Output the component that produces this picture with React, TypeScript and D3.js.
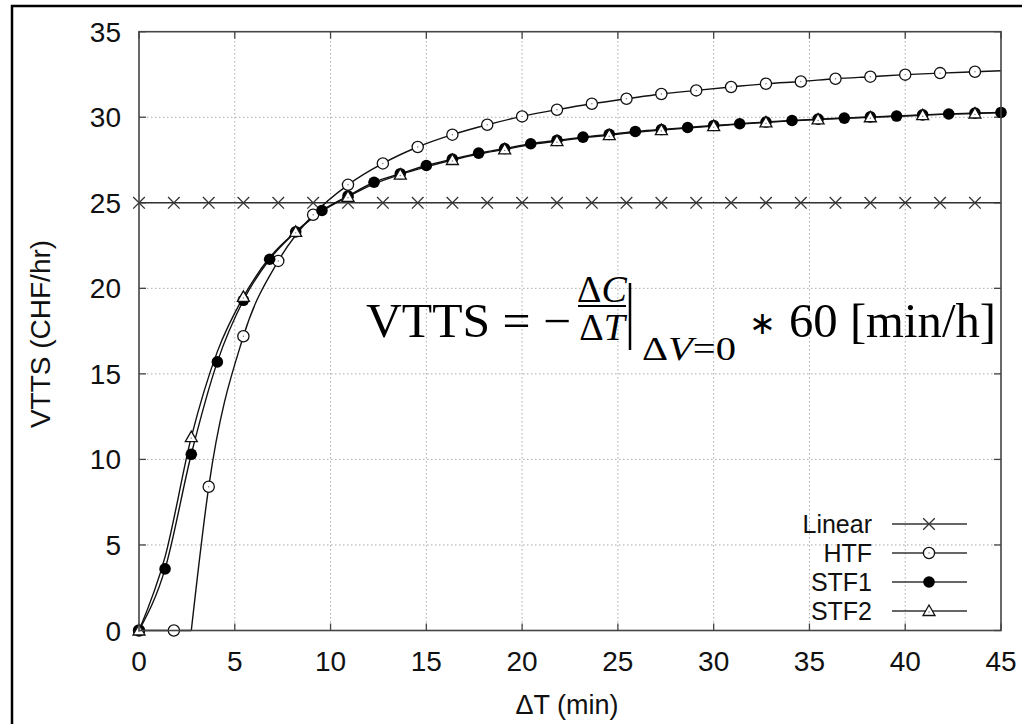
import React from "react";
import * as d3 from "d3";

// marker positions (min) for Linear / HTF
const linX = [0, 1.82, 3.64, 5.45, 7.27, 9.09, 10.91, 12.73, 14.55, 16.36, 18.18, 20.0, 21.82, 23.64, 25.45, 27.27, 29.09, 30.91, 32.73, 34.55, 36.36, 38.18, 40.0, 41.82, 43.64];
const linY = [25, 25, 25, 25, 25, 25, 25, 25, 25, 25, 25, 25, 25, 25, 25, 25, 25, 25, 25, 25, 25, 25, 25, 25, 25];
const htfY = [0, 0, 8.4, 17.2, 21.6, 24.3, 26.05, 27.3, 28.26, 28.98, 29.56, 30.05, 30.44, 30.79, 31.08, 31.36, 31.57, 31.77, 31.96, 32.09, 32.25, 32.37, 32.49, 32.58, 32.66];
// unmarked points on the lines
const linExtra = [[45, 25]];
const htfExtra = [[2.73, 0], [45, 32.72]];

// STF points (STF2 marked every second point)
const stfX = [0, 1.36, 2.73, 4.09, 5.45, 6.82, 8.18, 9.55, 10.91, 12.27, 13.64, 15.0, 16.36, 17.73, 19.09, 20.45, 21.82, 23.18, 24.55, 25.91, 27.27, 28.64, 30.0, 31.36, 32.73, 34.09, 35.45, 36.82, 38.18, 39.55, 40.91, 42.27, 43.64, 45.0];
const stf1Y = [0, 3.6, 10.3, 15.7, 19.3, 21.7, 23.3, 24.55, 25.4, 26.2, 26.7, 27.18, 27.55, 27.9, 28.17, 28.45, 28.65, 28.84, 29.0, 29.17, 29.28, 29.4, 29.52, 29.62, 29.72, 29.81, 29.89, 29.95, 30.02, 30.07, 30.14, 30.19, 30.24, 30.28];
const stf2Y = [0, 4.3, 11.3, 16.3, 19.5, 21.8, 23.3, 24.5, 25.35, 26.1, 26.65, 27.1, 27.5, 27.85, 28.12, 28.4, 28.6, 28.8, 28.95, 29.12, 29.25, 29.37, 29.48, 29.6, 29.7, 29.79, 29.87, 29.94, 30.0, 30.06, 30.12, 30.18, 30.22, 30.28];

const legendNames = ["Linear", "HTF", "STF1", "STF2"];

const W = 1022;
const H = 724;
const sans = "'Liberation Sans', Arial, Helvetica, sans-serif";
const serif = "'Liberation Serif', 'Times New Roman', serif";

const x = d3.scaleLinear().domain([0, 45]).range([139, 1001]);
const y = d3.scaleLinear().domain([0, 35]).range([630.5, 31.7]);

type P = [number, number];

const zipPts = (xs: number[], ys: number[]): P[] => xs.map((v, i) => [v, ys[i]] as P);
const merge = (a: P[], b: number[][]): P[] =>
  [...a, ...b.map((d) => [d[0], d[1]] as P)].sort((p, q) => p[0] - q[0]);

const smooth = d3
  .line<P>()
  .x((d) => x(d[0]))
  .y((d) => y(d[1]))
  .curve(d3.curveMonotoneX);
const straight = d3
  .line<P>()
  .x((d) => x(d[0]))
  .y((d) => y(d[1]));

const Marker = ({ kind, cx, cy }: { kind: string; cx: number; cy: number }) => {
  if (kind === "cross") {
    const s = 5.8;
    return (
      <path
        d={`M${cx - s},${cy - s}L${cx + s},${cy + s}M${cx - s},${cy + s}L${cx + s},${cy - s}`}
        stroke="#333"
        strokeWidth={1.3}
      />
    );
  }
  if (kind === "open") {
    return (
      <g>
        <circle cx={cx} cy={cy} r={5.6} fill="#fff" stroke="#111" strokeWidth={1.3} />
        <circle cx={cx} cy={cy} r={0.7} fill="#777" />
      </g>
    );
  }
  if (kind === "filled") {
    return <circle cx={cx} cy={cy} r={5.8} fill="#000" />;
  }
  const s = 6;
  return (
    <g>
      <path
        d={`M${cx},${cy - s}L${cx + s},${cy + s * 0.75}L${cx - s},${cy + s * 0.75}Z`}
        fill="#fff"
        stroke="#111"
        strokeWidth={1.3}
        strokeLinejoin="miter"
      />
      <circle cx={cx} cy={cy + 1} r={0.7} fill="#777" />
    </g>
  );
};

export default function App() {
  const linMarks = zipPts(linX, linY);
  const htfMarks = zipPts(linX, htfY);
  const stf1Pts = zipPts(stfX, stf1Y);
  const stf2Pts = zipPts(stfX, stf2Y);

  const linLine = merge(linMarks, linExtra);
  const htfLine = merge(htfMarks, htfExtra);
  const knee = htfLine.findIndex((d) => d[0] === htfExtra[0][0]);

  const xTicks = x.ticks(9);
  const yTicks = y.ticks(7);
  const [x0, x1] = x.range();
  const [y0, y1] = y.range();

  const series = [
    { kind: "cross", pts: linMarks },
    { kind: "open", pts: htfMarks },
    { kind: "filled", pts: stf1Pts },
    { kind: "tri", pts: stf2Pts.filter((_, i) => i % 2 === 0) },
  ];

  const legRow = (i: number) => 524 + i * 29;

  return (
    <svg
      width={W}
      height={H}
      style={{ position: "absolute", left: 0, top: 0, background: "#fff" }}
    >
      <rect x={0} y={0} width={W} height={H} fill="#fff" />

      {/* grid */}
      <g stroke="#aaa" strokeWidth={1} strokeDasharray="1.5,2.5">
        {xTicks
          .filter((t) => t > 0 && t < 45)
          .map((t) => (
            <line key={"gx" + t} x1={x(t)} x2={x(t)} y1={y0} y2={y1} />
          ))}
        {yTicks
          .filter((t) => t > 0 && t < 35)
          .map((t) => (
            <line key={"gy" + t} x1={x0} x2={x1} y1={y(t)} y2={y(t)} />
          ))}
      </g>

      {/* ticks (inward, mirrored) */}
      <g stroke="#444" strokeWidth={1.3}>
        {xTicks.map((t) => (
          <g key={"tx" + t}>
            <line x1={x(t)} x2={x(t)} y1={y0} y2={y0 - 7} />
            <line x1={x(t)} x2={x(t)} y1={y1} y2={y1 + 7} />
          </g>
        ))}
        {yTicks.map((t) => (
          <g key={"ty" + t}>
            <line x1={x0} x2={x0 + 7} y1={y(t)} y2={y(t)} />
            <line x1={x1} x2={x1 - 7} y1={y(t)} y2={y(t)} />
          </g>
        ))}
      </g>

      <g fontFamily={sans} fontSize={28} fill="#111">
        {xTicks.map((t) => (
          <text key={"lx" + t} x={x(t)} y={671} textAnchor="middle">
            {t}
          </text>
        ))}
        {yTicks.map((t) => (
          <text key={"ly" + t} x={121} y={y(t) + 10} textAnchor="end">
            {t}
          </text>
        ))}
        <text x={567} y={714} textAnchor="middle" fontSize={27}>
          ΔT (min)
        </text>
        <text transform="translate(50,334) rotate(-90)" textAnchor="middle">
          VTTS (CHF/hr)
        </text>
      </g>

      {/* series lines */}
      <g fill="none" stroke="#111" strokeWidth={1.4}>
        <path d={straight(linLine) || ""} stroke="#333" />
        <path d={straight(htfLine.slice(0, knee + 1)) || ""} />
        <path d={smooth(htfLine.slice(knee)) || ""} />
        <path d={smooth(stf1Pts) || ""} />
        <path d={smooth(stf2Pts) || ""} />
      </g>

      {series.map((s) =>
        s.pts.map((d, i) => (
          <Marker key={s.kind + i} kind={s.kind} cx={x(d[0])} cy={y(d[1])} />
        ))
      )}

      {/* legend */}
      <g fontFamily={sans} fontSize={25} fill="#111">
        {legendNames.map((name, i) => (
          <g key={name}>
            <text x={872} y={legRow(i) + 9} textAnchor="end">
              {name}
            </text>
            <line x1={892} x2={967} y1={legRow(i)} y2={legRow(i)} stroke="#333" strokeWidth={1.4} />
            <Marker kind={series[i].kind} cx={929} cy={legRow(i)} />
          </g>
        ))}
      </g>

      {/* plot border */}
      <rect x={x0} y={y1} width={x1 - x0} height={y0 - y1} fill="none" stroke="#444" strokeWidth={1.6} />

      {/* formula */}
      <g fontFamily={serif} fill="#000">
        <text x={366} y={337} fontSize={48} textLength={205} lengthAdjust="spacingAndGlyphs">
          VTTS = −
        </text>
        <text x={602} y={302} fontSize={38} textAnchor="middle">
          Δ<tspan fontStyle="italic">C</tspan>
        </text>
        <line x1={578} x2={626} y1={306} y2={306} stroke="#000" strokeWidth={2} />
        <text x={602} y={340} fontSize={38} textAnchor="middle">
          Δ<tspan fontStyle="italic">T</tspan>
        </text>
        <line x1={630} x2={630} y1={283} y2={350} stroke="#000" strokeWidth={2.5} />
        <text x={642} y={360} fontSize={34} textLength={94} lengthAdjust="spacingAndGlyphs">
          Δ<tspan fontStyle="italic">V</tspan>=0
        </text>
        <text x={749} y={334} fontSize={32}>
          ∗
        </text>
        <text x={789} y={337} fontSize={48} textLength={207} lengthAdjust="spacingAndGlyphs">
          60 [min/h]
        </text>
      </g>

      {/* outer frame */}
      <rect x={12} y={6} width={1030} height={740} fill="none" stroke="#000" strokeWidth={2.5} />
    </svg>
  );
}
